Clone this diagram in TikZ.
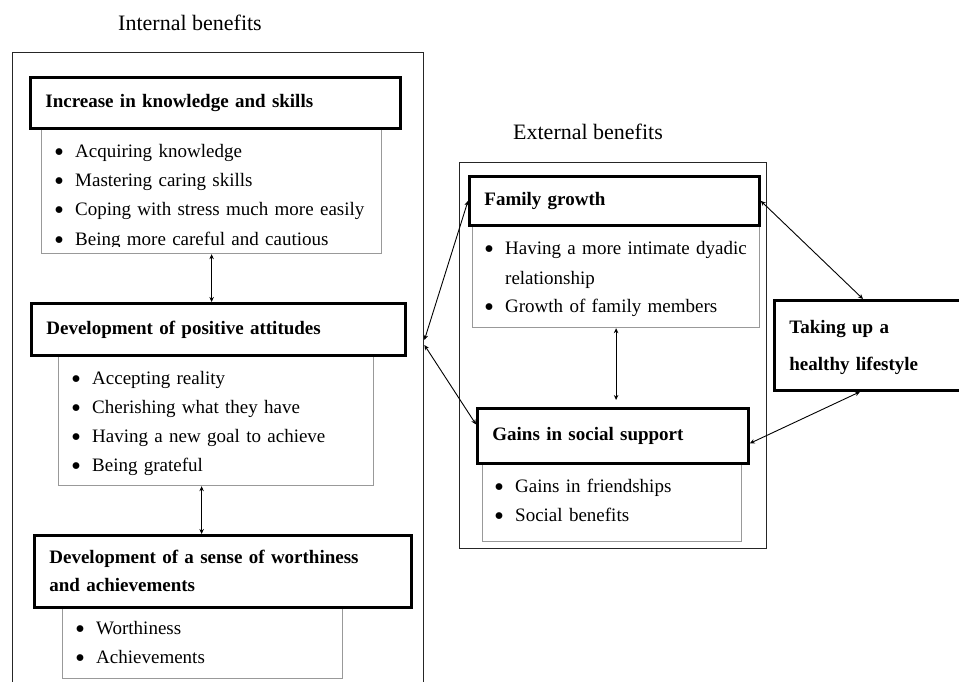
\documentclass[tikz,border=0pt]{standalone}
\usepackage{fontspec}
\setmainfont{Liberation Serif}
\usetikzlibrary{arrows.meta,calc}
\newcommand\bitem{\strut\makebox[21.1pt][l]{\raisebox{-4pt}{\scalebox{1.5}{\textbullet}}}}
\begin{document}
\begin{tikzpicture}[x=1pt,y=-1pt,
  outerbox/.style={draw=black!85, line width=1.4pt, anchor=north west, inner sep=0pt},
  header/.style={draw=black, line width=2.8pt, anchor=north west, inner xsep=15pt, inner ysep=0pt, align=left, font=\fontsize{19}{28}\selectfont\bfseries},
  listbox/.style={draw=black!40, line width=1.2pt, anchor=north west, inner sep=0pt},
  items/.style={anchor=north west, inner sep=0pt, text width=330pt, align=left, font=\fontsize{19}{29.3}\selectfont},
  title/.style={font=\fontsize{22}{26}\selectfont},
  link/.style={{Stealth[length=5pt,width=4.5pt]}-{Stealth[length=5pt,width=4.5pt]}, line width=0.9pt}
]
\useasboundingbox (0,0) rectangle (959,682);
\clip (0,0) rectangle (959,682);

% titles
\node[title] (tin) at (190,23) {Internal benefits};
\node[title] (tex) at (588,132) {External benefits};

% outer boxes
\node[outerbox, minimum width=411pt, minimum height=680pt] (oL) at (12,52) {};
\node[outerbox, minimum width=307pt, minimum height=386pt] (oR) at (459,162) {};

% list boxes
\node[listbox, minimum width=340pt, minimum height=126pt] (l1) at (41,127) {};
\node[listbox, minimum width=315pt, minimum height=131pt] (l2) at (58,354) {};
\node[listbox, minimum width=280pt, minimum height=72pt] (l3) at (62,606) {};
\node[listbox, minimum width=287pt, minimum height=103pt] (fl) at (472,224) {};
\node[listbox, minimum width=259pt, minimum height=79pt] (gl) at (482,462) {};

% list items
\begin{scope}
\clip (0,0) rectangle (959,246);
\node[items] (it1) at (53.9,136.5) {\bitem Acquiring knowledge\\\bitem Mastering caring skills\\\bitem Coping with stress much more easily\\\bitem Being more careful and cautious};
\end{scope}
\node[items, font=\fontsize{19}{29}\selectfont] (it2) at (70.9,363.5) {\bitem Accepting reality\\\bitem Cherishing what they have\\\bitem Having a new goal to achieve\\\bitem Being grateful};
\node[items, font=\fontsize{19}{29}\selectfont] (it3) at (74.9,613.5) {\bitem Worthiness\\\bitem Achievements};
\node[items, font=\fontsize{19}{29}\selectfont] (it4) at (483.9,234.5) {\bitem Having a more intimate dyadic\\\strut\hspace*{21.1pt}relationship\\\bitem Growth of family members};
\node[items, font=\fontsize{19}{29}\selectfont] (it5) at (493.9,471.5) {\bitem Gains in friendships\\\bitem Social benefits};

% headers
\node[header, text width=340pt, minimum height=51pt] (h1) at (29,76) {Increase in knowledge and skills};
\node[header, text width=344pt, minimum height=52pt] (h2) at (30,302) {Development of positive attitudes};
\node[header, text width=347pt, minimum height=72pt] (h3) at (33,534) {Development of a sense of worthiness\\and achievements};
\node[header, text width=260pt, minimum height=49pt] (fam) at (468,175) {Family growth};
\node[header, text width=241pt, minimum height=55pt] (gains) at (476,407) {Gains in social support};
\node[header, text width=170pt, minimum height=90pt, font=\fontsize{19}{37}\selectfont\bfseries] (take) at (773,299) {\rule{0pt}{17pt}Taking up a\\healthy lifestyle};

% connectors
\draw[link] (l1.south) -- (l1.south |- h2.north);
\draw[link] ([xshift=-14.5pt]l2.south) -- ([xshift=-14.5pt]l2.south |- h3.north);
\draw[link] (fl.south) -- ([yshift=7pt]fl.south |- gains.north);
\draw[link] ([yshift=-288pt]oL.north east) -- (fam.west);
\draw[link] ([yshift=-293pt]oL.north east) -- ([yshift=11.5pt]gains.west);
\draw[link] (fam.east) -- ([xshift=90pt]take.north west);
\draw[link] ([yshift=-7.5pt]gains.east) -- ([xshift=87pt]take.south west);
\end{tikzpicture}
\end{document}
